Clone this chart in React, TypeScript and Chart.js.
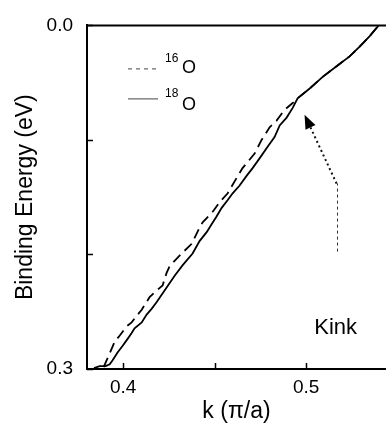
import React, { useEffect, useRef } from 'react';
import { Chart, registerables } from 'chart.js';

Chart.register(...registerables);

// ---- data ----
const seriesNames = ['16O', '18O'];
const k16 = [0.3893, 0.3926, 0.3953, 0.3975, 0.4019, 0.4046, 0.4079, 0.4101, 0.4144, 0.4183, 0.4215, 0.4237, 0.4254, 0.4319, 0.4374, 0.4418, 0.4434, 0.4489, 0.4527, 0.4571, 0.462, 0.4652, 0.4718, 0.4756, 0.48, 0.4838, 0.4882, 0.4926, 0.4953, 0.5019, 0.509, 0.5166, 0.5237, 0.5292, 0.5347, 0.5396];
const e16 = [0.2983, 0.2864, 0.2763, 0.272, 0.2627, 0.2593, 0.2525, 0.2483, 0.2373, 0.2314, 0.2271, 0.2161, 0.2102, 0.1992, 0.1907, 0.1763, 0.172, 0.1627, 0.1542, 0.1466, 0.1331, 0.1246, 0.1119, 0.1, 0.089, 0.0831, 0.0737, 0.0678, 0.0636, 0.0551, 0.0449, 0.0356, 0.0271, 0.0186, 0.0093, 0.0];
const k18 = [0.384, 0.3871, 0.3904, 0.3926, 0.3942, 0.3969, 0.3997, 0.4024, 0.4046, 0.4062, 0.4101, 0.4128, 0.4155, 0.4183, 0.4226, 0.4281, 0.4325, 0.4379, 0.4418, 0.4456, 0.4483, 0.451, 0.4538, 0.4571, 0.4598, 0.4636, 0.4674, 0.4707, 0.4745, 0.4789, 0.4827, 0.4855, 0.4893, 0.4926, 0.4953, 0.5019, 0.509, 0.5166, 0.5237, 0.5292, 0.5347, 0.5396];
const e18 = [0.2992, 0.2975, 0.2975, 0.2958, 0.2924, 0.2856, 0.2797, 0.2737, 0.2686, 0.2644, 0.2593, 0.2525, 0.2475, 0.2415, 0.2314, 0.2186, 0.2093, 0.1992, 0.1881, 0.1805, 0.1737, 0.1669, 0.1593, 0.1525, 0.1466, 0.1398, 0.1314, 0.1246, 0.1161, 0.1059, 0.0975, 0.0873, 0.0805, 0.072, 0.0636, 0.0551, 0.0449, 0.0356, 0.0271, 0.0186, 0.0093, 0.0];

const xTickValues = [0.4, 0.45, 0.5];
const xTickLabels = ['0.4', '', '0.5'];
const yTickValues = [0, 0.1, 0.2, 0.3];
const yTickLabels = ['0.0', '', '', '0.3'];

const xTitle = 'k (\u03C0/a)';
const yTitle = 'Binding Energy (eV)';
const legendMass = ['16', '18'];
const legendElement = 'O';
const kinkLabel = 'Kink';
const kinkTextAt = [0.5161, 0.2644];
const kinkArrowTail = [0.5166, 0.1975];
const kinkArrowBend = [0.5166, 0.1381];
const kinkArrowTip = [0.4991, 0.078];

const FONT = '"Liberation Sans", Arial, Helvetica, sans-serif';

const decorPlugin = {
  id: 'decor',
  afterDatasetsDraw(chart: any) {
    const { ctx, chartArea, scales } = chart;
    const xs = scales.x;
    const ys = scales.y;
    ctx.save();
    ctx.strokeStyle = '#000';
    ctx.fillStyle = '#000';
    // top frame line
    ctx.lineWidth = 2;
    ctx.setLineDash([]);
    ctx.beginPath();
    ctx.moveTo(chartArea.left - 1, chartArea.top);
    ctx.lineTo(chartArea.right, chartArea.top);
    ctx.stroke();
    // inner tick marks
    ctx.lineWidth = 1.5;
    xTickValues.forEach((v) => {
      const px = Math.round(xs.getPixelForValue(v)) + 0.5;
      ctx.beginPath();
      ctx.moveTo(px, chartArea.bottom);
      ctx.lineTo(px, chartArea.bottom - 6);
      ctx.stroke();
    });
    yTickValues.forEach((v) => {
      const py = Math.round(ys.getPixelForValue(v)) + 0.5;
      ctx.beginPath();
      ctx.moveTo(chartArea.left, py);
      ctx.lineTo(chartArea.left + 6, py);
      ctx.stroke();
    });

    // legend
    const L = chartArea.left;
    const T = chartArea.top;
    const rows = [
      { lineY: T + 43, dash: [4, 4], massY: T + 37, elY: T + 48 },
      { lineY: T + 73, dash: [], massY: T + 72, elY: T + 85 },
    ];
    rows.forEach((r, i) => {
      ctx.strokeStyle = '#444';
      ctx.lineWidth = 1;
      ctx.setLineDash(r.dash);
      ctx.beginPath();
      ctx.moveTo(L + 41, r.lineY + 0.5);
      ctx.lineTo(L + 71, r.lineY + 0.5);
      ctx.stroke();
      ctx.setLineDash([]);
      ctx.fillStyle = '#000';
      ctx.textAlign = 'left';
      ctx.textBaseline = 'alphabetic';
      ctx.font = `12px ${FONT}`;
      ctx.fillText(legendMass[i], L + 78, r.massY);
      ctx.font = `18px ${FONT}`;
      ctx.fillText(legendElement, L + 95, r.elY);
    });

    // kink annotation
    const tx = xs.getPixelForValue(kinkArrowTail[0]);
    const ty = ys.getPixelForValue(kinkArrowTail[1]);
    const bx = xs.getPixelForValue(kinkArrowBend[0]);
    const by = ys.getPixelForValue(kinkArrowBend[1]);
    const hx = xs.getPixelForValue(kinkArrowTip[0]);
    const hy = ys.getPixelForValue(kinkArrowTip[1]);
    ctx.strokeStyle = '#333';
    ctx.lineWidth = 1;
    ctx.setLineDash([3, 3]);
    ctx.beginPath();
    ctx.moveTo(Math.round(tx) + 0.5, ty);
    ctx.lineTo(Math.round(bx) + 0.5, by);
    ctx.stroke();
    const ang = Math.atan2(hy - by, hx - bx);
    const headLen = 14;
    const headHalf = 5.5;
    const baseX = hx - headLen * Math.cos(ang);
    const baseY = hy - headLen * Math.sin(ang);
    ctx.strokeStyle = '#111';
    ctx.lineWidth = 2;
    ctx.setLineDash([2, 3]);
    ctx.beginPath();
    ctx.moveTo(bx, by);
    ctx.lineTo(baseX, baseY);
    ctx.stroke();
    ctx.setLineDash([]);
    ctx.fillStyle = '#000';
    ctx.beginPath();
    ctx.moveTo(hx, hy);
    ctx.lineTo(baseX + headHalf * Math.sin(ang), baseY - headHalf * Math.cos(ang));
    ctx.lineTo(baseX - headHalf * Math.sin(ang), baseY + headHalf * Math.cos(ang));
    ctx.closePath();
    ctx.fill();

    ctx.font = `22px ${FONT}`;
    ctx.textAlign = 'center';
    ctx.textBaseline = 'middle';
    ctx.fillText(kinkLabel, xs.getPixelForValue(kinkTextAt[0]), ys.getPixelForValue(kinkTextAt[1]));
    ctx.restore();
  },
};

export default function App() {
  const canvasRef = useRef<HTMLCanvasElement | null>(null);

  useEffect(() => {
    document.body.style.margin = '0';
    const canvas = canvasRef.current;
    if (!canvas) return;
    const chart = new Chart(canvas, {
      type: 'line',
      data: {
        datasets: [
          {
            label: seriesNames[0],
            data: k16.map((k, i) => ({ x: k, y: e16[i] })),
            borderColor: '#000',
            borderWidth: 1.8,
            borderDash: [10, 6],
            pointRadius: 0,
            tension: 0,
            fill: false,
          },
          {
            label: seriesNames[1],
            data: k18.map((k, i) => ({ x: k, y: e18[i] })),
            borderColor: '#000',
            borderWidth: 1.8,
            pointRadius: 0,
            tension: 0,
            fill: false,
          },
        ],
      },
      options: {
        responsive: false,
        animation: false,
        layout: { padding: { top: 15, right: 0, left: 0, bottom: 0 } },
        plugins: { legend: { display: false }, tooltip: { enabled: false } },
        scales: {
          x: {
            type: 'linear',
            position: 'bottom',
            min: 0.3802,
            max: 0.5436,
            afterBuildTicks: (s: any) => {
              s.ticks = xTickValues.map((v) => ({ value: v }));
            },
            afterFit: (s: any) => {
              s.height = 54;
            },
            grid: { display: true, drawOnChartArea: false, drawTicks: false },
            border: { display: true, color: '#000', width: 2 },
            ticks: {
              color: '#000',
              padding: 7,
              autoSkip: false,
              maxRotation: 0,
              font: { family: FONT, size: 19 },
              callback: (v: any) => {
                const i = xTickValues.findIndex((t) => Math.abs(t - Number(v)) < 1e-6);
                return i >= 0 ? xTickLabels[i] : '';
              },
            },
            title: {
              display: true,
              text: xTitle,
              color: '#000',
              font: { family: FONT, size: 23, lineHeight: 1 },
              padding: { top: 0, bottom: 0 },
            },
          },
          y: {
            type: 'linear',
            reverse: true,
            min: 0,
            max: 0.3,
            afterBuildTicks: (s: any) => {
              s.ticks = yTickValues.map((v) => ({ value: v }));
            },
            afterFit: (s: any) => {
              s.width = 87;
            },
            grid: { display: true, drawOnChartArea: false, drawTicks: false },
            border: { display: true, color: '#000', width: 2 },
            ticks: {
              color: '#000',
              padding: 14,
              autoSkip: false,
              font: { family: FONT, size: 19 },
              callback: (v: any) => {
                const i = yTickValues.findIndex((t) => Math.abs(t - Number(v)) < 1e-6);
                return i >= 0 ? yTickLabels[i] : '';
              },
            },
            title: {
              display: true,
              text: yTitle,
              color: '#000',
              font: { family: FONT, size: 23, lineHeight: 1 },
              padding: { top: 14, bottom: 0 },
            },
          },
        },
      },
      plugins: [decorPlugin],
    } as any);
    return () => chart.destroy();
  }, []);

  return (
    <div style={{ position: 'fixed', left: 0, top: 0, width: 386, height: 423, background: '#fff' }}>
      <canvas ref={canvasRef} width={386} height={423} style={{ display: 'block' }} />
    </div>
  );
}
